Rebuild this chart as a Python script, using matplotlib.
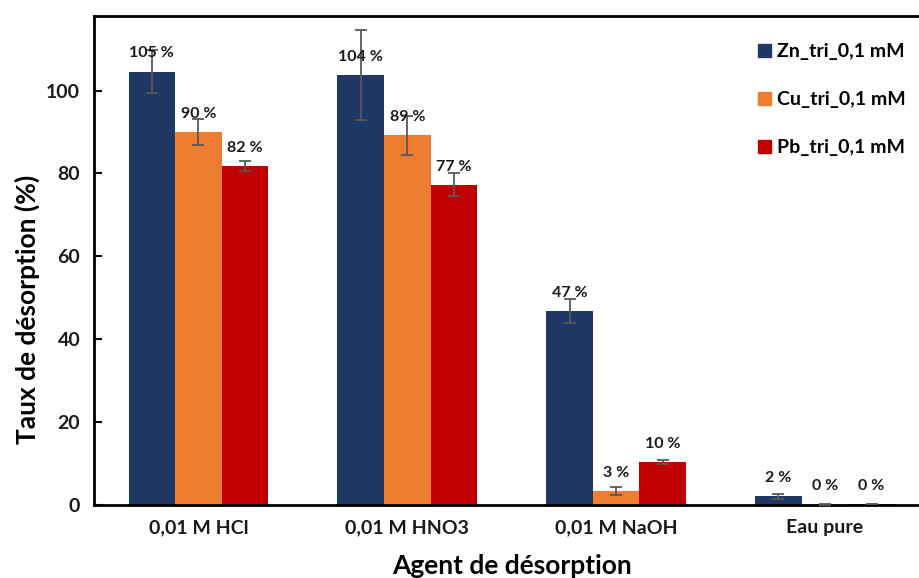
import numpy as np
import matplotlib

matplotlib.use("Agg")
import matplotlib.pyplot as plt
from matplotlib.patches import Patch

categories = ["0,01 M HCl", "0,01 M HNO3", "0,01 M NaOH", "Eau pure"]
series = ["Zn_tri_0,1 mM", "Cu_tri_0,1 mM", "Pb_tri_0,1 mM"]
zn = [104.6, 103.8, 46.9, 2.1]
cu = [90.0, 89.2, 3.4, 0.2]
pb = [81.7, 77.3, 10.4, 0.3]
zn_err = [5.1, 10.9, 2.9, 0.6]
cu_err = [3.1, 4.7, 1.0, 0.1]
pb_err = [1.2, 2.8, 0.5, 0.0]
zn_lbl = ["105 %", "104 %", "47 %", "2 %"]
cu_lbl = ["90 %", "89 %", "3 %", "0 %"]
pb_lbl = ["82 %", "77 %", "10 %", "0 %"]

colors = ["#1F3864", "#ED7D31", "#C00000"]

plt.rcParams["font.family"] = ["Lato", "DejaVu Sans"]

fig = plt.figure(figsize=(9.19, 5.78), dpi=100)
ax = fig.add_axes([0.1023, 0.1263, 0.909, 0.846])

x = np.arange(len(categories))
w = 0.223
data = [(zn, zn_err, zn_lbl), (cu, cu_err, cu_lbl), (pb, pb_err, pb_lbl)]
for i, (vals, errs, lbls) in enumerate(data):
    pos = x + (i - 1) * w
    ax.bar(pos, vals, width=w, color=colors[i], label=series[i], zorder=2)
    ax.errorbar(pos, vals, yerr=errs, fmt="none", ecolor="#595959",
                elinewidth=1.3, capsize=4, capthick=1.3, zorder=3)
    for px, v, t in zip(pos, vals, lbls):
        ax.annotate(t, (px, v), xytext=(0, 13), textcoords="offset points",
                    ha="center", va="center", fontsize=11.5, fontweight="bold",
                    color="#1a1a1a", zorder=4)

ax.set_xlim(-0.5, 3.5)
ax.set_ylim(0, 118)
ax.set_yticks([0, 20, 40, 60, 80, 100])
ax.set_xticks(x)
ax.set_xticklabels(categories, fontsize=14, fontweight="bold", color="#1a1a1a")
ax.tick_params(axis="y", direction="in", length=6, width=1.5, labelsize=14, pad=10)
ax.tick_params(axis="x", length=0, pad=10)
for lab in ax.get_yticklabels():
    lab.set_fontweight("bold")
    lab.set_color("#1a1a1a")

for s in ["left", "bottom", "top"]:
    ax.spines[s].set_linewidth(2)
ax.spines["right"].set_visible(False)

ax.set_ylabel("Taux de désorption (%)", fontsize=19, fontweight="bold")
ax.yaxis.set_label_coords(-0.065, 0.40)
ax.set_xlabel("Agent de désorption", fontsize=19, fontweight="bold", labelpad=13)

handles = [Patch(color=c) for c in colors]
leg = ax.legend(handles, series, loc="upper left", bbox_to_anchor=(0.806, 0.956),
                bbox_transform=fig.transFigure, frameon=False, fontsize=14,
                handlelength=0.65, handleheight=0.65, handletextpad=0.3,
                labelspacing=1.6)
for t in leg.get_texts():
    t.set_fontweight("bold")

fig.savefig("out.png", dpi=100)
